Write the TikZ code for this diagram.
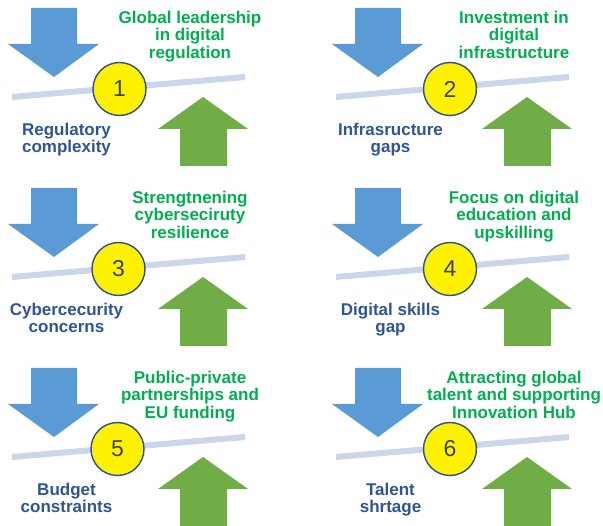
\documentclass[tikz,border=0pt]{standalone}
\usepackage{fontspec}
\setmainfont{Liberation Sans}
\definecolor{arrblue}{HTML}{5B9BD5}
\definecolor{arrgreen}{HTML}{70AD47}
\definecolor{barcol}{HTML}{CAD6EA}
\definecolor{txtblue}{HTML}{2F5597}
\definecolor{txtgreen}{HTML}{00B050}
\definecolor{numcol}{HTML}{404040}
\definecolor{ringcol}{HTML}{2F4F8F}
\tikzset{
  downarrow/.style={fill=arrblue},
  uparrow/.style={fill=arrgreen},
  beam/.style={draw=barcol, line width=6pt},
  pivot/.style={circle, fill=yellow, draw=ringcol, line width=1.4pt, minimum size=53pt, inner sep=0pt, font=\fontsize{23}{23}\selectfont, text=numcol},
  goodtxt/.style={align=center, anchor=north, inner sep=0pt, text=txtgreen, font=\fontsize{17}{17.5}\selectfont\bfseries},
  badtxt/.style={align=center, anchor=north, inner sep=0pt, text=txtblue, font=\fontsize{17}{17.5}\selectfont\bfseries}
}
\newcommand\mypanel[6]{%
  \begin{scope}[shift={(#1,#2)}]
    \path[downarrow] (31,8) -- (77,8) -- (77,44) -- (99,44) -- (54,77) -- (8,44) -- (31,44) -- cycle;
    \path[uparrow] (180,166) -- (227,166) -- (227,129) -- (248,129) -- (203,97) -- (158,129) -- (180,129) -- cycle;
    \coordinate (b#3l) at (12,97);
    \coordinate (b#3r) at (245,77);
    \draw[beam] (b#3l) -- (b#3r);
    \node[pivot] (n#3) at (#4,89) {#3};
    \node[goodtxt] (g#3) at (190,10.8) {#5};
    \node[badtxt] (r#3) at (66.5,122.5) {#6};
  \end{scope}}
\begin{document}
\begin{tikzpicture}[x=1pt,y=-1pt]
\useasboundingbox (0,0) rectangle (603,526);
\fill[white] (0,0) rectangle (603,526);
\mypanel{0}{0}{1}{119.5}{Global leadership\\in digital\\regulation}{Regulatory\\complexity}
\mypanel{324}{0}{2}{126}{Investment in\\digital\\infrastructure}{Infrasructure\\gaps}
\mypanel{0}{180}{3}{118.5}{Strengtnening\\cyberseciruty\\resilience}{Cybercecurity\\concerns}
\mypanel{324}{180}{4}{126}{Focus on digital\\education and\\upskilling}{Digital skills\\gap}
\mypanel{0}{360}{5}{117.5}{Public-private\\partnerships and\\EU funding}{Budget\\constraints}
\mypanel{324}{360}{6}{126}{Attracting global\\talent and supporting\\Innovation Hub}{Talent\\shrtage}
\end{tikzpicture}
\end{document}
